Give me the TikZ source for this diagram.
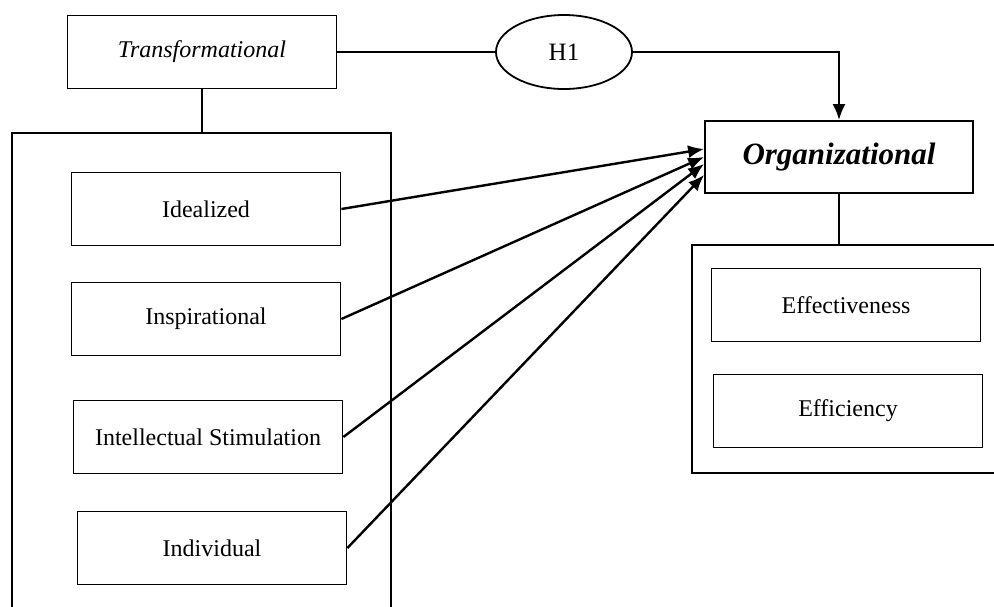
\documentclass[tikz,border=0pt]{standalone}
\usepackage{fontspec}
\setmainfont{Liberation Serif}
\usetikzlibrary{shapes.geometric,arrows.meta}
\tikzset{
    var/.style={draw, line width=1.8pt, minimum width=269pt, minimum height=73pt, inner sep=0pt, font=\fontsize{24}{28}\selectfont},
    hyp/.style={draw, ellipse, line width=1.8pt, minimum width=136pt, minimum height=74pt, inner sep=0pt, font=\fontsize{25}{30}\selectfont},
    link/.style={line width=2.4pt}
}
\begin{document}
\begin{tikzpicture}[x=1pt, y=-1pt, >={Latex[length=16pt,width=13pt]}]
\useasboundingbox (0,0) rectangle (994,606);
% top row
\node[var, font=\fontsize{24}{28}\selectfont\itshape] (trans) at (202,52) {Transformational};
\node[hyp] (h1) at (564,52) {H1};
\node[var, minimum width=268pt, minimum height=72pt, font=\fontsize{31}{36}\selectfont\bfseries\itshape] (org) at (839,157) {Organizational};
\draw[link] (trans) -- (h1);
\draw[link, ->] (h1.east) -| (org.north);
% left group
\coordinate (ltop) at (202,133);
\draw[line width=1.8pt] (12,620) -- (12,133) -- (391,133) -- (391,620);
\draw[link] (trans) -- (ltop);
\node[var] (ideal) at (206,209) {Idealized};
\node[var] (insp) at (206,319) {Inspirational};
\node[var] (intel) at (208,437) {Intellectual Stimulation};
\node[var] (indiv) at (212,548) {Individual};
% right group
\coordinate (rtop) at (839,245);
\draw[line width=1.8pt] (1000,245) -- (692,245) -- (692,473) -- (1000,473);
\draw[link] (org) -- (rtop);
\node[var] (effect) at (846,305) {Effectiveness};
\node[var] (effic) at (848,411) {Efficiency};
% arrows
\draw[link, ->] (ideal.east) -- ([yshift=8pt]org.west);
\draw[link, ->] (insp.east) -- ([yshift=0pt]org.west);
\draw[link, ->] (intel.east) -- ([yshift=-7pt]org.west);
\draw[link, ->] (indiv.east) -- ([yshift=-18pt]org.west);
\end{tikzpicture}
\end{document}
